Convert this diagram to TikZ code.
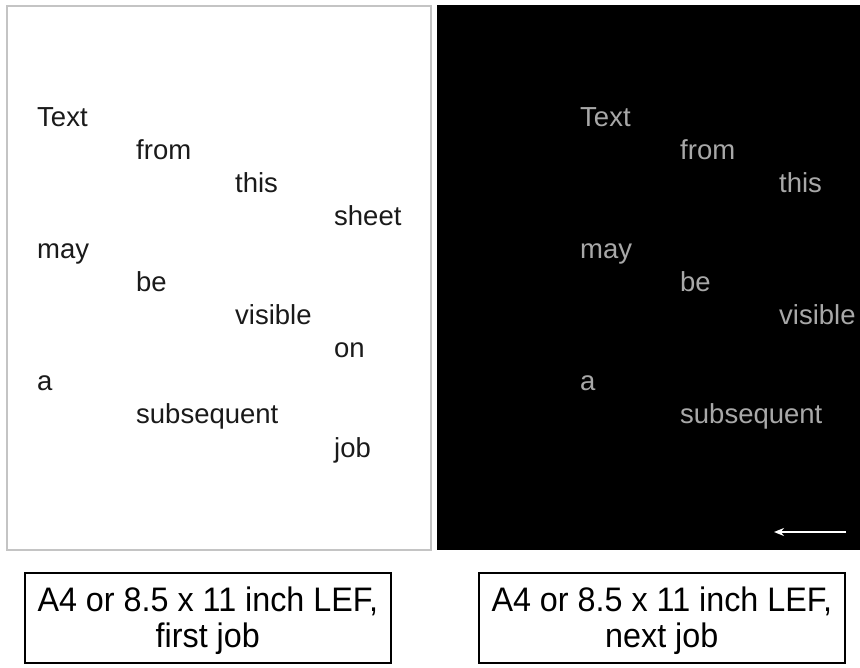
\documentclass[tikz,border=0pt]{standalone}
\usepackage{fontspec}
\setmainfont{Liberation Sans}
\usetikzlibrary{arrows.meta}
\definecolor{ink}{HTML}{1A1A1A}
\definecolor{ghost}{HTML}{A8A8A8}
\definecolor{frame}{HTML}{C4C4C4}
\begin{document}
\begin{tikzpicture}[x=1pt,y=-1pt,
  word/.style={anchor=base west,inner sep=0pt,font=\fontsize{27.5}{30}\selectfont,text=ink},
  ghostword/.style={word,text=ghost},
  labelbox/.style={draw=black,line width=1.6pt,minimum width=366pt,minimum height=90pt,anchor=north west,inner sep=0pt},
  labeltext/.style={align=center,inner sep=0pt,font=\fontsize{34}{36}\selectfont},
  sheetframe/.style={draw=frame,line width=1.5pt,fill=white}]
\useasboundingbox (0,0) rectangle (860,668);
\fill[white] (0,0) rectangle (860,668);
% left sheet
\draw[sheetframe] (7,6) rectangle (431,550);
% right sheet
\fill[black] (437,5) rectangle (860,550);
% left words
\node[word] (t1) at (37,127) {Text};
\node[word] (t2) at (136,160) {from};
\node[word] (t3) at (235,193) {this};
\node[word] (t4) at (334,226) {sheet};
\node[word] (t5) at (37,259) {may};
\node[word] (t6) at (136,292) {be};
\node[word] (t7) at (235,325) {visible};
\node[word] (t8) at (334,358) {on};
\node[word] (t9) at (37,391) {a};
\node[word] (t10) at (136,424) {subsequent};
\node[word] (t11) at (334,457) {job};
% right ghost words
\node[ghostword] (g1) at (580,127) {Text};
\node[ghostword] (g2) at (680,160) {from};
\node[ghostword] (g3) at (779,193) {this};
\node[ghostword] (g5) at (580,259) {may};
\node[ghostword] (g6) at (680,292) {be};
\node[ghostword] (g7) at (779,325) {visible};
\node[ghostword] (g9) at (580,391) {a};
\node[ghostword] (g10) at (680,424) {subsequent};
% arrow
\coordinate (as) at (846,532);
\coordinate (ae) at (774,532);
\draw[white,line width=2pt,-{Stealth[length=10pt,width=8pt]}] (as) -- (ae);
% label boxes
\node[labelbox] (b1) at (24,572) {};
\node[labeltext] (l1) at ([yshift=-3pt]b1.center) {\scalebox{0.95}[1]{A4 or 8.5 x 11 inch LEF,}\\\scalebox{0.95}[1]{first job}};
\node[labelbox] (b2) at (478,572) {};
\node[labeltext] (l2) at ([yshift=-3pt]b2.center) {\scalebox{0.95}[1]{A4 or 8.5 x 11 inch LEF,}\\\scalebox{0.95}[1]{next job}};
\end{tikzpicture}
\end{document}
